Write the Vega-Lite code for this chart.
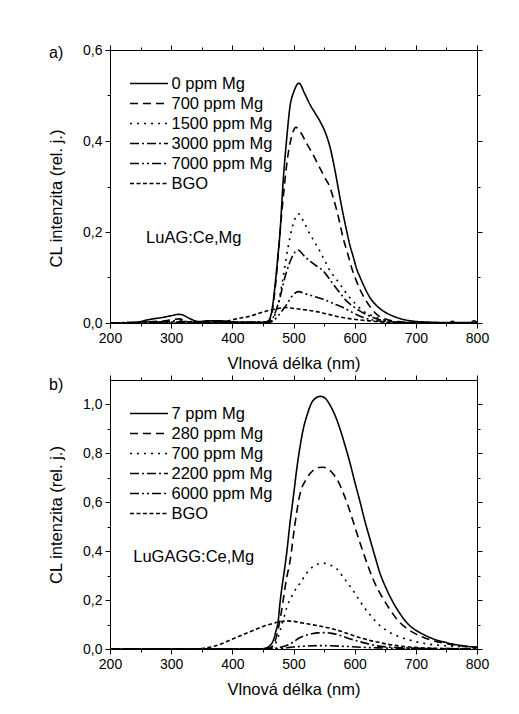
{
"$schema": "https://vega.github.io/schema/vega-lite/v6.json",
"background": "white",
"padding": {"left": 48, "top": 43, "right": 5, "bottom": 5},
"config": {
 "font": "Liberation Sans",
 "view": {"stroke": null},
 "axis": {"grid": false, "domainColor": "#000", "tickColor": "#000", "labelColor": "#000", "titleColor": "#000", "labelFontSize": 14, "titleFontSize": 16.5, "titleFontWeight": "normal", "labelFont": "Liberation Sans", "titleFont": "Liberation Sans"},
 "title": {"fontSize": 16, "fontWeight": "normal", "anchor": "start", "frame": "group", "color": "#000", "font": "Liberation Sans"},
 "line": {"color": "#000", "strokeWidth": 1.6},
 "legend": {"orient": "top-left", "title": null, "symbolType": "M-1.42,0H2.58", "symbolSize": 361, "symbolStrokeWidth": 1.6, "symbolStrokeColor": "#000", "labelFontSize": 16.5, "labelColor": "#000", "labelFont": "Liberation Sans", "rowPadding": 1, "offset": 23, "padding": 0, "labelOffset": 17.5}
},
"datasets": {
 "a": [
{"s":"0 ppm Mg","x":200,"y":0},{"s":"0 ppm Mg","x":240,"y":0},{"s":"0 ppm Mg","x":255,"y":0.005},{"s":"0 ppm Mg","x":270,"y":0.009},{"s":"0 ppm Mg","x":285,"y":0.012},{"s":"0 ppm Mg","x":300,"y":0.016},{"s":"0 ppm Mg","x":312,"y":0.019},{"s":"0 ppm Mg","x":318,"y":0.018},{"s":"0 ppm Mg","x":330,"y":0.01},{"s":"0 ppm Mg","x":345,"y":0.003},{"s":"0 ppm Mg","x":360,"y":0.005},{"s":"0 ppm Mg","x":375,"y":0.005},{"s":"0 ppm Mg","x":390,"y":0.004},{"s":"0 ppm Mg","x":400,"y":0.002},{"s":"0 ppm Mg","x":430,"y":0.001},{"s":"0 ppm Mg","x":452,"y":0.002},{"s":"0 ppm Mg","x":459,"y":0.005},{"s":"0 ppm Mg","x":465,"y":0.03},{"s":"0 ppm Mg","x":470,"y":0.085},{"s":"0 ppm Mg","x":474,"y":0.14},{"s":"0 ppm Mg","x":478,"y":0.2},{"s":"0 ppm Mg","x":483,"y":0.31},{"s":"0 ppm Mg","x":489,"y":0.407},{"s":"0 ppm Mg","x":494,"y":0.473},{"s":"0 ppm Mg","x":501,"y":0.51},{"s":"0 ppm Mg","x":509,"y":0.527},{"s":"0 ppm Mg","x":518,"y":0.505},{"s":"0 ppm Mg","x":527,"y":0.48},{"s":"0 ppm Mg","x":535,"y":0.462},{"s":"0 ppm Mg","x":543,"y":0.444},{"s":"0 ppm Mg","x":551,"y":0.422},{"s":"0 ppm Mg","x":560,"y":0.385},{"s":"0 ppm Mg","x":568,"y":0.334},{"s":"0 ppm Mg","x":576,"y":0.275},{"s":"0 ppm Mg","x":581,"y":0.24},{"s":"0 ppm Mg","x":587,"y":0.202},{"s":"0 ppm Mg","x":592,"y":0.172},{"s":"0 ppm Mg","x":598,"y":0.144},{"s":"0 ppm Mg","x":603,"y":0.12},{"s":"0 ppm Mg","x":609,"y":0.1},{"s":"0 ppm Mg","x":617,"y":0.076},{"s":"0 ppm Mg","x":625,"y":0.056},{"s":"0 ppm Mg","x":636,"y":0.038},{"s":"0 ppm Mg","x":647,"y":0.026},{"s":"0 ppm Mg","x":658,"y":0.018},{"s":"0 ppm Mg","x":669,"y":0.012},{"s":"0 ppm Mg","x":682,"y":0.007},{"s":"0 ppm Mg","x":696,"y":0.004},{"s":"0 ppm Mg","x":720,"y":0.002},{"s":"0 ppm Mg","x":755,"y":0.001},{"s":"0 ppm Mg","x":760,"y":0.004},{"s":"0 ppm Mg","x":764,"y":0.001},{"s":"0 ppm Mg","x":790,"y":0.001},{"s":"0 ppm Mg","x":795,"y":0.005},{"s":"0 ppm Mg","x":800,"y":0.001},
{"s":"700 ppm Mg","x":200,"y":0},{"s":"700 ppm Mg","x":250,"y":0.002},{"s":"700 ppm Mg","x":290,"y":0.005},{"s":"700 ppm Mg","x":305,"y":0.008},{"s":"700 ppm Mg","x":315,"y":0.009},{"s":"700 ppm Mg","x":321,"y":0.004},{"s":"700 ppm Mg","x":340,"y":0.001},{"s":"700 ppm Mg","x":370,"y":0.003},{"s":"700 ppm Mg","x":390,"y":0.003},{"s":"700 ppm Mg","x":420,"y":0.001},{"s":"700 ppm Mg","x":455,"y":0.001},{"s":"700 ppm Mg","x":460,"y":0.004},{"s":"700 ppm Mg","x":465,"y":0.025},{"s":"700 ppm Mg","x":470,"y":0.075},{"s":"700 ppm Mg","x":475,"y":0.15},{"s":"700 ppm Mg","x":480,"y":0.23},{"s":"700 ppm Mg","x":485,"y":0.3},{"s":"700 ppm Mg","x":490,"y":0.36},{"s":"700 ppm Mg","x":496,"y":0.405},{"s":"700 ppm Mg","x":504,"y":0.43},{"s":"700 ppm Mg","x":512,"y":0.418},{"s":"700 ppm Mg","x":521,"y":0.396},{"s":"700 ppm Mg","x":532,"y":0.37},{"s":"700 ppm Mg","x":543,"y":0.341},{"s":"700 ppm Mg","x":552,"y":0.318},{"s":"700 ppm Mg","x":560,"y":0.297},{"s":"700 ppm Mg","x":565,"y":0.275},{"s":"700 ppm Mg","x":571,"y":0.246},{"s":"700 ppm Mg","x":576,"y":0.218},{"s":"700 ppm Mg","x":581,"y":0.187},{"s":"700 ppm Mg","x":587,"y":0.16},{"s":"700 ppm Mg","x":592,"y":0.136},{"s":"700 ppm Mg","x":597,"y":0.113},{"s":"700 ppm Mg","x":603,"y":0.092},{"s":"700 ppm Mg","x":610,"y":0.07},{"s":"700 ppm Mg","x":619,"y":0.048},{"s":"700 ppm Mg","x":628,"y":0.031},{"s":"700 ppm Mg","x":636,"y":0.019},{"s":"700 ppm Mg","x":650,"y":0.009},{"s":"700 ppm Mg","x":670,"y":0.003},{"s":"700 ppm Mg","x":700,"y":0.001},{"s":"700 ppm Mg","x":800,"y":0},
{"s":"1500 ppm Mg","x":200,"y":0},{"s":"1500 ppm Mg","x":290,"y":0.003},{"s":"1500 ppm Mg","x":310,"y":0.005},{"s":"1500 ppm Mg","x":330,"y":0.002},{"s":"1500 ppm Mg","x":400,"y":0.002},{"s":"1500 ppm Mg","x":460,"y":0.002},{"s":"1500 ppm Mg","x":466,"y":0.008},{"s":"1500 ppm Mg","x":470,"y":0.02},{"s":"1500 ppm Mg","x":475,"y":0.041},{"s":"1500 ppm Mg","x":479,"y":0.07},{"s":"1500 ppm Mg","x":483,"y":0.1},{"s":"1500 ppm Mg","x":489,"y":0.15},{"s":"1500 ppm Mg","x":494,"y":0.187},{"s":"1500 ppm Mg","x":500,"y":0.22},{"s":"1500 ppm Mg","x":508,"y":0.24},{"s":"1500 ppm Mg","x":517,"y":0.222},{"s":"1500 ppm Mg","x":527,"y":0.195},{"s":"1500 ppm Mg","x":535,"y":0.177},{"s":"1500 ppm Mg","x":543,"y":0.158},{"s":"1500 ppm Mg","x":552,"y":0.135},{"s":"1500 ppm Mg","x":560,"y":0.114},{"s":"1500 ppm Mg","x":568,"y":0.1},{"s":"1500 ppm Mg","x":576,"y":0.085},{"s":"1500 ppm Mg","x":584,"y":0.07},{"s":"1500 ppm Mg","x":592,"y":0.056},{"s":"1500 ppm Mg","x":603,"y":0.04},{"s":"1500 ppm Mg","x":614,"y":0.026},{"s":"1500 ppm Mg","x":625,"y":0.018},{"s":"1500 ppm Mg","x":636,"y":0.012},{"s":"1500 ppm Mg","x":657,"y":0.004},{"s":"1500 ppm Mg","x":690,"y":0.001},{"s":"1500 ppm Mg","x":800,"y":0},
{"s":"3000 ppm Mg","x":200,"y":0},{"s":"3000 ppm Mg","x":300,"y":0.003},{"s":"3000 ppm Mg","x":320,"y":0.003},{"s":"3000 ppm Mg","x":400,"y":0.002},{"s":"3000 ppm Mg","x":460,"y":0.002},{"s":"3000 ppm Mg","x":466,"y":0.01},{"s":"3000 ppm Mg","x":472,"y":0.03},{"s":"3000 ppm Mg","x":478,"y":0.056},{"s":"3000 ppm Mg","x":483,"y":0.085},{"s":"3000 ppm Mg","x":489,"y":0.114},{"s":"3000 ppm Mg","x":496,"y":0.14},{"s":"3000 ppm Mg","x":502,"y":0.155},{"s":"3000 ppm Mg","x":508,"y":0.16},{"s":"3000 ppm Mg","x":517,"y":0.148},{"s":"3000 ppm Mg","x":527,"y":0.136},{"s":"3000 ppm Mg","x":538,"y":0.125},{"s":"3000 ppm Mg","x":549,"y":0.114},{"s":"3000 ppm Mg","x":557,"y":0.1},{"s":"3000 ppm Mg","x":565,"y":0.085},{"s":"3000 ppm Mg","x":576,"y":0.066},{"s":"3000 ppm Mg","x":587,"y":0.048},{"s":"3000 ppm Mg","x":598,"y":0.036},{"s":"3000 ppm Mg","x":609,"y":0.026},{"s":"3000 ppm Mg","x":620,"y":0.018},{"s":"3000 ppm Mg","x":630,"y":0.012},{"s":"3000 ppm Mg","x":652,"y":0.004},{"s":"3000 ppm Mg","x":690,"y":0.001},{"s":"3000 ppm Mg","x":800,"y":0},
{"s":"7000 ppm Mg","x":200,"y":0},{"s":"7000 ppm Mg","x":300,"y":0.002},{"s":"7000 ppm Mg","x":400,"y":0.001},{"s":"7000 ppm Mg","x":462,"y":0.002},{"s":"7000 ppm Mg","x":468,"y":0.006},{"s":"7000 ppm Mg","x":475,"y":0.016},{"s":"7000 ppm Mg","x":482,"y":0.028},{"s":"7000 ppm Mg","x":489,"y":0.041},{"s":"7000 ppm Mg","x":497,"y":0.058},{"s":"7000 ppm Mg","x":508,"y":0.069},{"s":"7000 ppm Mg","x":520,"y":0.064},{"s":"7000 ppm Mg","x":535,"y":0.058},{"s":"7000 ppm Mg","x":549,"y":0.052},{"s":"7000 ppm Mg","x":565,"y":0.043},{"s":"7000 ppm Mg","x":581,"y":0.034},{"s":"7000 ppm Mg","x":595,"y":0.024},{"s":"7000 ppm Mg","x":609,"y":0.015},{"s":"7000 ppm Mg","x":622,"y":0.009},{"s":"7000 ppm Mg","x":636,"y":0.005},{"s":"7000 ppm Mg","x":660,"y":0.002},{"s":"7000 ppm Mg","x":700,"y":0},{"s":"7000 ppm Mg","x":800,"y":0},
{"s":"BGO","x":200,"y":0},{"s":"BGO","x":380,"y":0},{"s":"BGO","x":391,"y":0.004},{"s":"BGO","x":410,"y":0.01},{"s":"BGO","x":429,"y":0.015},{"s":"BGO","x":445,"y":0.022},{"s":"BGO","x":461,"y":0.028},{"s":"BGO","x":475,"y":0.032},{"s":"BGO","x":487,"y":0.034},{"s":"BGO","x":500,"y":0.032},{"s":"BGO","x":518,"y":0.029},{"s":"BGO","x":538,"y":0.025},{"s":"BGO","x":557,"y":0.019},{"s":"BGO","x":576,"y":0.013},{"s":"BGO","x":595,"y":0.009},{"s":"BGO","x":614,"y":0.006},{"s":"BGO","x":630,"y":0.004},{"s":"BGO","x":647,"y":0.002},{"s":"BGO","x":670,"y":0.001},{"s":"BGO","x":700,"y":0},{"s":"BGO","x":800,"y":0}
 ],
 "b": [
{"s":"7 ppm Mg","x":200,"y":0},{"s":"7 ppm Mg","x":445,"y":0},{"s":"7 ppm Mg","x":456,"y":0.005},{"s":"7 ppm Mg","x":462,"y":0.015},{"s":"7 ppm Mg","x":467,"y":0.035},{"s":"7 ppm Mg","x":471,"y":0.07},{"s":"7 ppm Mg","x":475,"y":0.115},{"s":"7 ppm Mg","x":478,"y":0.19},{"s":"7 ppm Mg","x":481,"y":0.25},{"s":"7 ppm Mg","x":485,"y":0.32},{"s":"7 ppm Mg","x":489,"y":0.395},{"s":"7 ppm Mg","x":494,"y":0.51},{"s":"7 ppm Mg","x":500,"y":0.627},{"s":"7 ppm Mg","x":505,"y":0.73},{"s":"7 ppm Mg","x":511,"y":0.832},{"s":"7 ppm Mg","x":516,"y":0.9},{"s":"7 ppm Mg","x":522,"y":0.955},{"s":"7 ppm Mg","x":532,"y":1.016},{"s":"7 ppm Mg","x":544,"y":1.033},{"s":"7 ppm Mg","x":552,"y":1.025},{"s":"7 ppm Mg","x":560,"y":0.996},{"s":"7 ppm Mg","x":568,"y":0.955},{"s":"7 ppm Mg","x":576,"y":0.9},{"s":"7 ppm Mg","x":584,"y":0.835},{"s":"7 ppm Mg","x":592,"y":0.764},{"s":"7 ppm Mg","x":600,"y":0.685},{"s":"7 ppm Mg","x":609,"y":0.6},{"s":"7 ppm Mg","x":617,"y":0.52},{"s":"7 ppm Mg","x":625,"y":0.45},{"s":"7 ppm Mg","x":633,"y":0.38},{"s":"7 ppm Mg","x":641,"y":0.313},{"s":"7 ppm Mg","x":652,"y":0.245},{"s":"7 ppm Mg","x":663,"y":0.19},{"s":"7 ppm Mg","x":674,"y":0.145},{"s":"7 ppm Mg","x":685,"y":0.108},{"s":"7 ppm Mg","x":698,"y":0.08},{"s":"7 ppm Mg","x":712,"y":0.06},{"s":"7 ppm Mg","x":730,"y":0.04},{"s":"7 ppm Mg","x":750,"y":0.026},{"s":"7 ppm Mg","x":775,"y":0.014},{"s":"7 ppm Mg","x":800,"y":0.006},
{"s":"280 ppm Mg","x":200,"y":0},{"s":"280 ppm Mg","x":455,"y":0},{"s":"280 ppm Mg","x":462,"y":0.005},{"s":"280 ppm Mg","x":468,"y":0.02},{"s":"280 ppm Mg","x":473,"y":0.06},{"s":"280 ppm Mg","x":478,"y":0.12},{"s":"280 ppm Mg","x":483,"y":0.197},{"s":"280 ppm Mg","x":488,"y":0.28},{"s":"280 ppm Mg","x":494,"y":0.354},{"s":"280 ppm Mg","x":502,"y":0.504},{"s":"280 ppm Mg","x":510,"y":0.627},{"s":"280 ppm Mg","x":521,"y":0.695},{"s":"280 ppm Mg","x":532,"y":0.73},{"s":"280 ppm Mg","x":541,"y":0.742},{"s":"280 ppm Mg","x":549,"y":0.743},{"s":"280 ppm Mg","x":557,"y":0.735},{"s":"280 ppm Mg","x":565,"y":0.716},{"s":"280 ppm Mg","x":573,"y":0.685},{"s":"280 ppm Mg","x":581,"y":0.64},{"s":"280 ppm Mg","x":590,"y":0.58},{"s":"280 ppm Mg","x":598,"y":0.518},{"s":"280 ppm Mg","x":606,"y":0.455},{"s":"280 ppm Mg","x":614,"y":0.395},{"s":"280 ppm Mg","x":622,"y":0.338},{"s":"280 ppm Mg","x":630,"y":0.286},{"s":"280 ppm Mg","x":638,"y":0.243},{"s":"280 ppm Mg","x":647,"y":0.204},{"s":"280 ppm Mg","x":658,"y":0.16},{"s":"280 ppm Mg","x":669,"y":0.122},{"s":"280 ppm Mg","x":682,"y":0.09},{"s":"280 ppm Mg","x":696,"y":0.067},{"s":"280 ppm Mg","x":712,"y":0.048},{"s":"280 ppm Mg","x":729,"y":0.033},{"s":"280 ppm Mg","x":750,"y":0.022},{"s":"280 ppm Mg","x":778,"y":0.012},{"s":"280 ppm Mg","x":800,"y":0.008},
{"s":"700 ppm Mg","x":200,"y":0},{"s":"700 ppm Mg","x":455,"y":0},{"s":"700 ppm Mg","x":465,"y":0.005},{"s":"700 ppm Mg","x":472,"y":0.03},{"s":"700 ppm Mg","x":478,"y":0.074},{"s":"700 ppm Mg","x":484,"y":0.125},{"s":"700 ppm Mg","x":489,"y":0.17},{"s":"700 ppm Mg","x":497,"y":0.215},{"s":"700 ppm Mg","x":505,"y":0.25},{"s":"700 ppm Mg","x":511,"y":0.27},{"s":"700 ppm Mg","x":520,"y":0.305},{"s":"700 ppm Mg","x":530,"y":0.333},{"s":"700 ppm Mg","x":540,"y":0.348},{"s":"700 ppm Mg","x":549,"y":0.351},{"s":"700 ppm Mg","x":560,"y":0.343},{"s":"700 ppm Mg","x":571,"y":0.327},{"s":"700 ppm Mg","x":581,"y":0.295},{"s":"700 ppm Mg","x":592,"y":0.258},{"s":"700 ppm Mg","x":603,"y":0.218},{"s":"700 ppm Mg","x":614,"y":0.176},{"s":"700 ppm Mg","x":625,"y":0.14},{"s":"700 ppm Mg","x":636,"y":0.108},{"s":"700 ppm Mg","x":647,"y":0.085},{"s":"700 ppm Mg","x":658,"y":0.067},{"s":"700 ppm Mg","x":671,"y":0.052},{"s":"700 ppm Mg","x":685,"y":0.04},{"s":"700 ppm Mg","x":703,"y":0.028},{"s":"700 ppm Mg","x":723,"y":0.019},{"s":"700 ppm Mg","x":750,"y":0.013},{"s":"700 ppm Mg","x":778,"y":0.01},{"s":"700 ppm Mg","x":800,"y":0.008},
{"s":"2200 ppm Mg","x":200,"y":0},{"s":"2200 ppm Mg","x":462,"y":0},{"s":"2200 ppm Mg","x":472,"y":0.004},{"s":"2200 ppm Mg","x":483,"y":0.01},{"s":"2200 ppm Mg","x":494,"y":0.02},{"s":"2200 ppm Mg","x":502,"y":0.033},{"s":"2200 ppm Mg","x":510,"y":0.046},{"s":"2200 ppm Mg","x":520,"y":0.056},{"s":"2200 ppm Mg","x":530,"y":0.062},{"s":"2200 ppm Mg","x":540,"y":0.066},{"s":"2200 ppm Mg","x":549,"y":0.067},{"s":"2200 ppm Mg","x":560,"y":0.065},{"s":"2200 ppm Mg","x":573,"y":0.058},{"s":"2200 ppm Mg","x":587,"y":0.046},{"s":"2200 ppm Mg","x":600,"y":0.036},{"s":"2200 ppm Mg","x":614,"y":0.026},{"s":"2200 ppm Mg","x":625,"y":0.019},{"s":"2200 ppm Mg","x":636,"y":0.013},{"s":"2200 ppm Mg","x":655,"y":0.008},{"s":"2200 ppm Mg","x":674,"y":0.005},{"s":"2200 ppm Mg","x":700,"y":0.003},{"s":"2200 ppm Mg","x":750,"y":0.002},{"s":"2200 ppm Mg","x":800,"y":0.001},
{"s":"6000 ppm Mg","x":200,"y":0},{"s":"6000 ppm Mg","x":465,"y":0},{"s":"6000 ppm Mg","x":480,"y":0.003},{"s":"6000 ppm Mg","x":500,"y":0.008},{"s":"6000 ppm Mg","x":520,"y":0.012},{"s":"6000 ppm Mg","x":540,"y":0.014},{"s":"6000 ppm Mg","x":560,"y":0.013},{"s":"6000 ppm Mg","x":590,"y":0.01},{"s":"6000 ppm Mg","x":620,"y":0.006},{"s":"6000 ppm Mg","x":650,"y":0.004},{"s":"6000 ppm Mg","x":690,"y":0.002},{"s":"6000 ppm Mg","x":750,"y":0.001},{"s":"6000 ppm Mg","x":800,"y":0},
{"s":"BGO","x":200,"y":0},{"s":"BGO","x":340,"y":0},{"s":"BGO","x":355,"y":0.004},{"s":"BGO","x":370,"y":0.011},{"s":"BGO","x":380,"y":0.019},{"s":"BGO","x":395,"y":0.035},{"s":"BGO","x":412,"y":0.053},{"s":"BGO","x":428,"y":0.07},{"s":"BGO","x":445,"y":0.087},{"s":"BGO","x":460,"y":0.1},{"s":"BGO","x":472,"y":0.108},{"s":"BGO","x":489,"y":0.115},{"s":"BGO","x":500,"y":0.113},{"s":"BGO","x":511,"y":0.108},{"s":"BGO","x":527,"y":0.101},{"s":"BGO","x":543,"y":0.094},{"s":"BGO","x":560,"y":0.085},{"s":"BGO","x":576,"y":0.074},{"s":"BGO","x":592,"y":0.06},{"s":"BGO","x":609,"y":0.046},{"s":"BGO","x":625,"y":0.035},{"s":"BGO","x":641,"y":0.026},{"s":"BGO","x":657,"y":0.018},{"s":"BGO","x":674,"y":0.012},{"s":"BGO","x":690,"y":0.008},{"s":"BGO","x":707,"y":0.005},{"s":"BGO","x":740,"y":0.002},{"s":"BGO","x":800,"y":0}
 ]
},
"spacing": 57,
"bounds": "flush",
"resolve": {"scale": {"strokeDash": "independent"}, "legend": {"strokeDash": "independent"}},
"vconcat": [
 {
  "width": 367, "height": 273,
  "title": {"text": "a)", "dx": -61, "dy": 26, "baseline": "middle", "offset": 0},
  "resolve": {"axis": {"x": "independent", "y": "independent"}},
  "layer": [
   {
    "data": {"name": "a"},
    "mark": {"type": "line", "interpolate": "monotone"},
    "encoding": {
     "x": {"field": "x", "type": "quantitative", "scale": {"domain": [200, 800], "nice": false, "zero": false},
       "axis": {"orient": "bottom", "title": "Vlnová délka (nm)", "values": [200,250,300,350,400,450,500,550,600,650,700,750,800], "labelExpr": "datum.value % 100 === 0 ? datum.label : ''", "tickSize": {"condition": {"test": "datum.value % 100 === 0", "value": 5}, "value": 3}, "labelPadding": 3, "titlePadding": 10, "labelFlush": false}},
     "y": {"field": "y", "type": "quantitative", "scale": {"domain": [0, 0.6], "nice": false},
       "axis": {"orient": "left", "title": "CL intenzita (rel. j.)", "titleY": 148, "values": [0,0.1,0.2,0.3,0.4,0.5,0.6], "labelExpr": "round(datum.value*10) % 2 === 0 ? replace(format(datum.value, '.1f'), '.', ',') : ''", "tickSize": {"condition": {"test": "round(datum.value*10) % 2 === 0", "value": 5}, "value": 3}, "labelPadding": 3, "titlePadding": 18, "labelFlush": false}},
     "strokeDash": {"field": "s", "type": "nominal",
       "scale": {"domain": ["0 ppm Mg","700 ppm Mg","1500 ppm Mg","3000 ppm Mg","7000 ppm Mg","BGO"], "range": [[1,0],[8,5],[2,5],[9,3,2,3],[9,3,2,3,2,3],[4,2.5]]}}
    }
   },
   {
    "data": {"values": [{"x": 259, "y": 0.187, "t": "LuAG:Ce,Mg"}]},
    "mark": {"type": "text", "align": "left", "baseline": "middle", "fontSize": 16.5, "color": "#000"},
    "encoding": {
     "x": {"field": "x", "type": "quantitative", "axis": {"orient": "top", "title": null, "labels": false, "values": [200,250,300,350,400,450,500,550,600,650,700,750,800], "tickSize": {"condition": {"test": "datum.value % 100 === 0", "value": 5}, "value": 3}}},
     "y": {"field": "y", "type": "quantitative", "axis": {"orient": "right", "title": null, "labels": false, "values": [0,0.1,0.2,0.3,0.4,0.5,0.6], "tickSize": {"condition": {"test": "round(datum.value*10) % 2 === 0", "value": 5}, "value": 3}}},
     "text": {"field": "t"}
    }
   }
  ]
 },
 {
  "width": 367, "height": 269,
  "title": {"text": "b)", "dx": -61, "dy": 26, "baseline": "middle", "offset": 0},
  "resolve": {"axis": {"x": "independent", "y": "independent"}},
  "layer": [
   {
    "data": {"name": "b"},
    "mark": {"type": "line", "interpolate": "monotone"},
    "encoding": {
     "x": {"field": "x", "type": "quantitative", "scale": {"domain": [200, 800], "nice": false, "zero": false},
       "axis": {"orient": "bottom", "title": "Vlnová délka (nm)", "values": [200,250,300,350,400,450,500,550,600,650,700,750,800], "labelExpr": "datum.value % 100 === 0 ? datum.label : ''", "tickSize": {"condition": {"test": "datum.value % 100 === 0", "value": 5}, "value": 3}, "labelPadding": 3, "titlePadding": 10, "labelFlush": false}},
     "y": {"field": "y", "type": "quantitative", "scale": {"domain": [0, 1.1], "nice": false},
       "axis": {"orient": "left", "title": "CL intenzita (rel. j.)", "values": [0,0.1,0.2,0.3,0.4,0.5,0.6,0.7,0.8,0.9,1.0], "labelExpr": "round(datum.value*10) % 2 === 0 ? replace(format(datum.value, '.1f'), '.', ',') : ''", "tickSize": {"condition": {"test": "round(datum.value*10) % 2 === 0", "value": 5}, "value": 3}, "labelPadding": 3, "titlePadding": 18, "labelFlush": false}},
     "strokeDash": {"field": "s", "type": "nominal",
       "scale": {"domain": ["7 ppm Mg","280 ppm Mg","700 ppm Mg","2200 ppm Mg","6000 ppm Mg","BGO"], "range": [[1,0],[8,5],[2,5],[9,3,2,3],[9,3,2,3,2,3],[4,2.5]]}}
    }
   },
   {
    "data": {"values": [{"x": 238, "y": 0.377, "t": "LuGAGG:Ce,Mg"}]},
    "mark": {"type": "text", "align": "left", "baseline": "middle", "fontSize": 16.5, "color": "#000"},
    "encoding": {
     "x": {"field": "x", "type": "quantitative", "axis": {"orient": "top", "title": null, "labels": false, "values": [200,250,300,350,400,450,500,550,600,650,700,750,800], "tickSize": {"condition": {"test": "datum.value % 100 === 0", "value": 5}, "value": 3}}},
     "y": {"field": "y", "type": "quantitative", "axis": {"orient": "right", "title": null, "labels": false, "values": [0,0.1,0.2,0.3,0.4,0.5,0.6,0.7,0.8,0.9,1.0], "tickSize": {"condition": {"test": "round(datum.value*10) % 2 === 0", "value": 5}, "value": 3}}},
     "text": {"field": "t"}
    }
   }
  ]
 }
]
}
